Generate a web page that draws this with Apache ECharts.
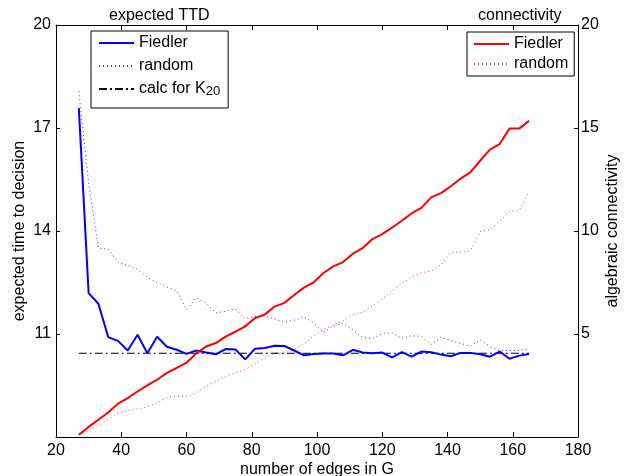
<!DOCTYPE html>
<html>
<head>
<meta charset="utf-8">
<script src="https://cdn.jsdelivr.net/npm/echarts@6/dist/echarts.min.js"></script>
<style>
  html, body { margin: 0; padding: 0; background: #fff; }
  #chart { width: 627px; height: 476px; }
</style>
</head>
<body>
<div id="chart"></div>
<script>
// number of edges in G
var edges = [27, 30, 33, 36, 39, 42, 45, 48, 51, 54, 57, 60, 63, 66, 69, 72, 75, 78, 81, 84,
  87, 90, 93, 96, 99, 102, 105, 108, 111, 114, 117, 120, 123, 126, 129, 132, 135, 138, 141, 144,
  147, 150, 153, 156, 159, 162, 165];

// expected TTD (left axis)
var ttdFiedler = [17.58, 12.19, 11.88, 10.91, 10.80, 10.52, 10.98, 10.44, 10.92, 10.63,
  10.54, 10.42, 10.52, 10.46, 10.41, 10.56, 10.55, 10.26, 10.57, 10.59,
  10.66, 10.65, 10.52, 10.38, 10.42, 10.43, 10.43, 10.38, 10.54, 10.46,
  10.44, 10.46, 10.32, 10.47, 10.34, 10.49, 10.47, 10.40, 10.35, 10.45,
  10.45, 10.41, 10.34, 10.49, 10.28, 10.37, 10.42];
var ttdRandom = [18.07, 15.4, 13.5, 13.47, 13.08, 13.0, 12.89, 12.65, 12.50, 12.37,
  12.26, 11.71, 12.05, 11.90, 11.61, 11.67, 11.73, 11.44, 11.51, 11.53,
  11.44, 11.34, 11.40, 11.50, 11.32, 11.05, 11.23, 11.31, 11.12, 10.90,
  10.87, 11.01, 11.04, 10.87, 10.95, 10.93, 10.69, 10.91, 10.80, 10.73,
  10.64, 10.83, 10.63, 10.52, 10.52, 10.52, 10.56];
var k20Value = 10.44;
var k20Range = [27, 165];

// algebraic connectivity (right axis)
var connFiedler = [0.11, 0.49, 0.84, 1.19, 1.62, 1.89, 2.21, 2.51, 2.78, 3.11,
  3.35, 3.60, 4.06, 4.39, 4.56, 4.87, 5.11, 5.37, 5.78, 5.94,
  6.33, 6.51, 6.89, 7.25, 7.51, 7.96, 8.28, 8.49, 8.90, 9.17,
  9.61, 9.85, 10.16, 10.50, 10.85, 11.12, 11.63, 11.84, 12.17, 12.54,
  12.85, 13.41, 13.95, 14.22, 14.97, 14.97, 15.35];
var connRandom = [0.10, 0.31, 0.55, 0.87, 1.17, 1.28, 1.36, 1.46, 1.65, 1.92,
  1.97, 1.97, 2.14, 2.46, 2.70, 2.94, 3.11, 3.27, 3.56, 3.83,
  4.08, 4.08, 4.24, 4.53, 4.90, 5.21, 5.45, 5.63, 5.95, 6.05,
  6.37, 6.70, 7.10, 7.45, 7.77, 7.98, 8.05, 8.35, 8.96, 8.97,
  9.03, 9.98, 10.06, 10.47, 10.95, 10.99, 11.89];

var legendText = {
  ttdF: 'Fiedler',
  ttdR: 'random',
  k20: 'calc for K{sub|20}',
  conF: 'Fiedler',
  conR: 'random'
};

function pairs(ys) {
  return edges.map(function (x, i) { return [x, ys[i]]; });
}

var font = '"Liberation Sans", Arial, Helvetica, sans-serif';
var black = '#000';

var chart = echarts.init(document.getElementById('chart'));

var axisCommon = {
  axisLine: { show: true, onZero: false, lineStyle: { color: black, width: 1 } },
  axisLabel: { color: black, fontSize: 16, fontFamily: font },
  splitLine: { show: false },
  nameMoveOverlap: false,
  nameTextStyle: { color: black, fontSize: 16, fontFamily: font }
};

var option = {
  backgroundColor: '#fff',
  animation: false,
  textStyle: { fontFamily: font },
  title: [
    { text: 'expected TTD', left: 104, top: 3,
      textStyle: { fontSize: 16, fontWeight: 'normal', color: black, fontFamily: font } },
    { text: 'connectivity', left: 473, top: 3,
      textStyle: { fontSize: 16, fontWeight: 'normal', color: black, fontFamily: font } }
  ],
  grid: { left: 56, right: 49, top: 25, bottom: 39, outerBoundsMode: 'none', containLabel: false },
  legend: [
    {
      data: ['ttdF', 'ttdR', 'k20'],
      orient: 'vertical',
      left: 91, top: 31,
      padding: [3, 8, 10, 7],
      itemGap: 5,
      itemWidth: 35,
      itemHeight: 14,
      borderColor: black,
      borderWidth: 1,
      backgroundColor: '#fff',
      selectedMode: false,
      itemStyle: { opacity: 0 },
      formatter: function (n) { return legendText[n]; },
      textStyle: {
        fontSize: 16, color: black, fontFamily: font, lineHeight: 18,
        rich: { sub: { fontSize: 13, verticalAlign: 'bottom', padding: [16, 0, 0, 0], fontFamily: font, color: black } }
      }
    },
    {
      data: ['conF', 'conR'],
      orient: 'vertical',
      left: 467, top: 32,
      padding: [3, 6, 3, 6],
      itemGap: 2,
      itemWidth: 35,
      itemHeight: 14,
      borderColor: black,
      borderWidth: 1,
      backgroundColor: '#fff',
      selectedMode: false,
      itemStyle: { opacity: 0 },
      formatter: function (n) { return legendText[n]; },
      textStyle: { fontSize: 16, color: black, fontFamily: font, lineHeight: 18 }
    }
  ],
  xAxis: [
    Object.assign({}, axisCommon, {
      type: 'value', min: 20, max: 180, interval: 20,
      position: 'bottom',
      name: 'number of edges in G', nameLocation: 'middle', nameGap: 25,
      axisTick: { inside: true, length: 5, lineStyle: { color: black } },
      axisLabel: { color: black, fontSize: 16, fontFamily: font, margin: 6 }
    }),
    Object.assign({}, axisCommon, {
      type: 'value', min: 20, max: 180, interval: 20,
      position: 'top',
      axisTick: { inside: true, length: 5, lineStyle: { color: black } },
      axisLabel: { show: false }
    })
  ],
  yAxis: [
    Object.assign({}, axisCommon, {
      type: 'value', min: 8, max: 20, interval: 3,
      position: 'left',
      name: 'expected time to decision', nameLocation: 'middle', nameGap: 28, nameRotate: 90,
      axisTick: { inside: true, length: 4, lineStyle: { color: black } },
      axisLabel: { color: black, fontSize: 16, fontFamily: font, margin: 5, showMinLabel: false }
    }),
    Object.assign({}, axisCommon, {
      type: 'value', min: 0, max: 20, interval: 5,
      position: 'right',
      name: 'algebraic connectivity', nameLocation: 'middle', nameGap: 27, nameRotate: 90,
      axisTick: { inside: true, length: 4, lineStyle: { color: black } },
      axisLabel: { color: black, fontSize: 16, fontFamily: font, margin: 3, showMinLabel: false }
    })
  ],
  series: [
    {
      name: 'ttdF', type: 'line', xAxisIndex: 0, yAxisIndex: 0,
      data: pairs(ttdFiedler), symbol: 'none', z: 5,
      lineStyle: { color: '#0000ff', width: 2 }, itemStyle: { color: '#0000ff' }
    },
    {
      name: 'ttdR', type: 'line', xAxisIndex: 0, yAxisIndex: 0,
      data: pairs(ttdRandom), symbol: 'none', z: 3,
      lineStyle: { color: '#0000ff', width: 1, type: [1, 3], opacity: 0.8 }, itemStyle: { color: '#0000ff' }
    },
    {
      name: 'k20', type: 'line', xAxisIndex: 0, yAxisIndex: 0,
      data: [[k20Range[0], k20Value], [k20Range[1], k20Value]], symbol: 'none', z: 4,
      lineStyle: { color: black, width: 1.2, type: [8, 3, 2, 3] }, itemStyle: { color: black }
    },
    {
      name: 'conF', type: 'line', xAxisIndex: 0, yAxisIndex: 1,
      data: pairs(connFiedler), symbol: 'none', z: 5,
      lineStyle: { color: '#ff0000', width: 2 }, itemStyle: { color: '#ff0000' }
    },
    {
      name: 'conR', type: 'line', xAxisIndex: 0, yAxisIndex: 1,
      data: pairs(connRandom), symbol: 'none', z: 3,
      lineStyle: { color: '#ff0000', width: 1, type: [1, 3], opacity: 0.8 }, itemStyle: { color: '#ff0000' }
    }
  ]
};

chart.setOption(option);
</script>
</body>
</html>
